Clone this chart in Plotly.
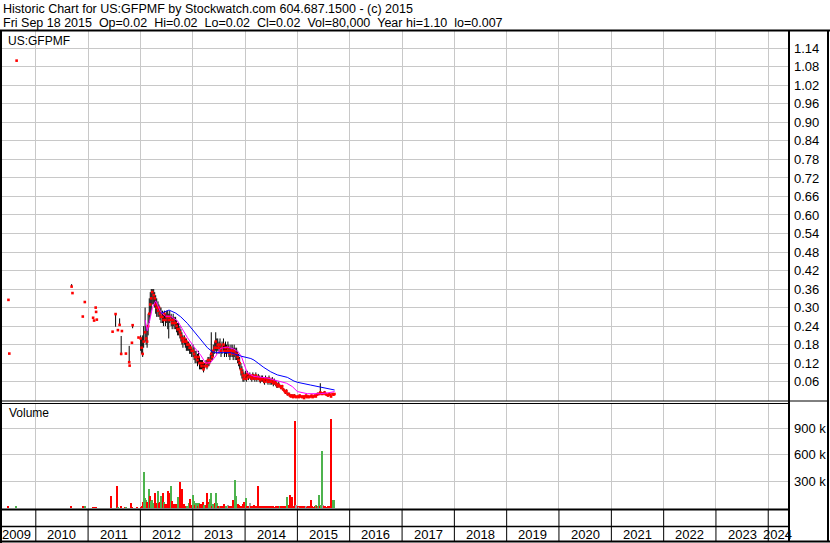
import plotly.graph_objects as go

# ---------------- DATA ----------------
# sparse early trades 2009-2011
early_dates = ["2009-06-24", "2009-06-30", "2009-08-20", "2010-09-08", "2010-09-14",
               "2010-11-25", "2010-12-09", "2011-02-05", "2011-02-12", "2011-02-23",
               "2011-02-26", "2011-03-03", "2011-06-21", "2011-07-12", "2011-07-28",
               "2011-08-09", "2011-08-20", "2011-08-25", "2011-09-22", "2011-10-15",
               "2011-10-18", "2011-11-03", "2011-11-08", "2011-12-19"]
early_close = [0.325, 0.151, 1.10, 0.368, 0.347, 0.271, 0.318, 0.267, 0.258, 0.30,
               0.286, 0.261, 0.222, 0.279, 0.227, 0.244, 0.150, 0.224, 0.151, 0.123,
               0.112, 0.186, 0.243, 0.203]
early_high = [0.325, 0.151, 1.10, 0.376, 0.347, 0.271, 0.318, 0.267, 0.258, 0.30,
              0.286, 0.261, 0.222, 0.281, 0.227, 0.265, 0.208, 0.224, 0.151, 0.176,
              0.112, 0.186, 0.243, 0.203]
early_low = [0.325, 0.151, 1.10, 0.368, 0.347, 0.271, 0.318, 0.267, 0.258, 0.30,
             0.286, 0.261, 0.222, 0.238, 0.227, 0.244, 0.146, 0.224, 0.151, 0.121,
             0.112, 0.186, 0.233, 0.203]

# weekly trades 2012-2015 (4 per month)
close_2012 = [0.20, 0.17, 0.15, 0.19, 0.22, 0.20, 0.19, 0.24, 0.28, 0.31, 0.33, 0.35,
              0.34, 0.33, 0.31, 0.30, 0.29, 0.30, 0.28, 0.27, 0.27, 0.26, 0.28, 0.26,
              0.27, 0.27, 0.26, 0.27, 0.26, 0.25, 0.26, 0.25, 0.25, 0.24, 0.23, 0.23,
              0.22, 0.21, 0.20, 0.19, 0.20, 0.19, 0.19, 0.18, 0.18, 0.17, 0.17, 0.16]
high_2012 = [0.21, 0.20, 0.21, 0.24, 0.30, 0.24, 0.23, 0.28, 0.33, 0.35, 0.36, 0.36,
             0.36, 0.35, 0.34, 0.33, 0.32, 0.31, 0.30, 0.30, 0.29, 0.28, 0.29, 0.28,
             0.29, 0.29, 0.28, 0.29, 0.28, 0.27, 0.28, 0.27, 0.27, 0.26, 0.25, 0.25,
             0.24, 0.23, 0.22, 0.21, 0.21, 0.20, 0.20, 0.19, 0.19, 0.18, 0.18, 0.17]
low_2012 = [0.16, 0.15, 0.14, 0.17, 0.19, 0.18, 0.17, 0.21, 0.25, 0.27, 0.29, 0.31,
            0.31, 0.30, 0.28, 0.27, 0.27, 0.27, 0.26, 0.25, 0.25, 0.24, 0.26, 0.24,
            0.25, 0.23, 0.20, 0.25, 0.24, 0.23, 0.24, 0.23, 0.23, 0.22, 0.21, 0.21,
            0.20, 0.19, 0.18, 0.17, 0.18, 0.17, 0.16, 0.16, 0.16, 0.15, 0.15, 0.14]

close_2013 = [0.16, 0.15, 0.14, 0.14, 0.13, 0.14, 0.12, 0.12, 0.11, 0.12, 0.10, 0.11,
              0.12, 0.11, 0.13, 0.12, 0.13, 0.15, 0.14, 0.16, 0.17, 0.19, 0.17, 0.18,
              0.17, 0.18, 0.16, 0.17, 0.18, 0.16, 0.17, 0.16, 0.17, 0.16, 0.15, 0.16,
              0.16, 0.15, 0.16, 0.15, 0.15, 0.14, 0.13, 0.12, 0.10, 0.09, 0.08, 0.07]
high_2013 = [0.18, 0.17, 0.16, 0.16, 0.15, 0.16, 0.14, 0.13, 0.13, 0.13, 0.12, 0.12,
             0.13, 0.13, 0.14, 0.14, 0.15, 0.22, 0.16, 0.18, 0.19, 0.22, 0.20, 0.20,
             0.19, 0.20, 0.18, 0.19, 0.20, 0.18, 0.19, 0.18, 0.19, 0.18, 0.17, 0.18,
             0.18, 0.17, 0.18, 0.17, 0.17, 0.16, 0.15, 0.14, 0.12, 0.11, 0.10, 0.09]
low_2013 = [0.14, 0.13, 0.12, 0.12, 0.11, 0.12, 0.10, 0.10, 0.10, 0.10, 0.09, 0.10,
            0.11, 0.10, 0.11, 0.11, 0.12, 0.13, 0.13, 0.14, 0.15, 0.16, 0.15, 0.16,
            0.15, 0.16, 0.14, 0.15, 0.16, 0.14, 0.15, 0.14, 0.15, 0.14, 0.13, 0.14,
            0.14, 0.13, 0.14, 0.13, 0.13, 0.12, 0.11, 0.10, 0.08, 0.07, 0.06, 0.06]

close_2014 = [0.080, 0.070, 0.085, 0.075, 0.080, 0.075, 0.070, 0.080, 0.075, 0.070, 0.080, 0.070,
              0.075, 0.070, 0.065, 0.070, 0.070, 0.065, 0.060, 0.070, 0.065, 0.060, 0.070, 0.060,
              0.060, 0.065, 0.055, 0.060, 0.055, 0.050, 0.045, 0.050, 0.045, 0.040, 0.045, 0.035,
              0.030, 0.025, 0.030, 0.020, 0.020, 0.015, 0.012, 0.015, 0.010, 0.015, 0.012, 0.010]
high_2014 = [0.095, 0.085, 0.095, 0.085, 0.090, 0.085, 0.080, 0.090, 0.085, 0.080, 0.090, 0.080,
             0.085, 0.080, 0.075, 0.080, 0.080, 0.075, 0.070, 0.080, 0.075, 0.070, 0.080, 0.070,
             0.070, 0.075, 0.065, 0.070, 0.065, 0.060, 0.055, 0.060, 0.050, 0.045, 0.050, 0.040,
             0.035, 0.030, 0.035, 0.025, 0.025, 0.020, 0.015, 0.020, 0.015, 0.020, 0.015, 0.012]
low_2014 = [0.065, 0.060, 0.075, 0.065, 0.070, 0.065, 0.060, 0.070, 0.065, 0.060, 0.070, 0.060,
            0.065, 0.060, 0.055, 0.060, 0.060, 0.055, 0.050, 0.060, 0.055, 0.050, 0.060, 0.050,
            0.050, 0.055, 0.045, 0.050, 0.045, 0.040, 0.040, 0.045, 0.040, 0.035, 0.040, 0.030,
            0.025, 0.020, 0.025, 0.015, 0.015, 0.012, 0.010, 0.012, 0.008, 0.012, 0.010, 0.008]

close_2015 = [0.012, 0.010, 0.015, 0.012, 0.010, 0.012, 0.007, 0.012, 0.015, 0.010, 0.012, 0.010,
              0.012, 0.015, 0.010, 0.012, 0.015, 0.012, 0.018, 0.020, 0.020, 0.025, 0.022, 0.020,
              0.022, 0.025, 0.020, 0.018, 0.015, 0.020, 0.018, 0.012, 0.020, 0.018, 0.020]
high_2015 = [0.015, 0.012, 0.018, 0.015, 0.012, 0.015, 0.010, 0.015, 0.018, 0.012, 0.015, 0.012,
             0.015, 0.018, 0.012, 0.015, 0.018, 0.015, 0.020, 0.025, 0.025, 0.055, 0.025, 0.025,
             0.025, 0.030, 0.022, 0.020, 0.018, 0.022, 0.020, 0.015, 0.022, 0.020, 0.022]
low_2015 = [0.010, 0.008, 0.012, 0.010, 0.008, 0.010, 0.007, 0.010, 0.012, 0.008, 0.010, 0.008,
            0.010, 0.012, 0.008, 0.010, 0.012, 0.010, 0.015, 0.018, 0.018, 0.020, 0.020, 0.018,
            0.020, 0.022, 0.018, 0.015, 0.012, 0.018, 0.015, 0.010, 0.018, 0.015, 0.018]

week_days = [3, 10, 17, 24]
last_day = (2015, 9, 17)

# moving averages
ma_fast_dates = ["2012-02-03", "2012-02-18", "2012-03-07", "2012-03-25", "2012-04-17", "2012-05-03",
                 "2012-05-22", "2012-06-26", "2012-07-31", "2012-09-16", "2012-10-21", "2012-11-24",
                 "2013-01-09", "2013-02-25", "2013-04-01", "2013-05-06", "2013-06-10", "2013-07-14",
                 "2013-08-30", "2013-10-13", "2013-11-17", "2013-12-08", "2013-12-24", "2014-01-17",
                 "2014-03-04", "2014-04-20", "2014-06-06", "2014-07-19", "2014-09-06", "2014-10-18",
                 "2014-11-27", "2015-01-01", "2015-03-12", "2015-06-12", "2015-08-07", "2015-09-18"]
ma_fast_vals = [0.26, 0.225, 0.26, 0.30, 0.322, 0.305, 0.285, 0.272, 0.272, 0.257, 0.23, 0.203,
                0.173, 0.146, 0.12, 0.122, 0.143, 0.168, 0.172, 0.166, 0.155, 0.14, 0.118, 0.088,
                0.077, 0.074, 0.072, 0.066, 0.06, 0.055, 0.044, 0.028, 0.021, 0.021, 0.024, 0.028]
ma_slow_dates = ["2012-05-22", "2012-06-26", "2012-07-19", "2012-09-04", "2012-10-09", "2012-11-24",
                 "2013-01-09", "2013-02-25", "2013-04-13", "2013-05-18", "2013-06-21", "2013-09-22",
                 "2013-12-01", "2014-02-10", "2014-03-04", "2014-05-12", "2014-06-29", "2014-08-14",
                 "2014-10-23", "2014-12-08", "2015-01-01", "2015-04-04", "2015-06-12", "2015-07-05",
                 "2015-09-18"]
ma_slow_vals = [0.281, 0.287, 0.292, 0.282, 0.27, 0.249, 0.222, 0.197, 0.17, 0.157, 0.154, 0.154,
                0.143, 0.135, 0.13, 0.106, 0.092, 0.082, 0.074, 0.062, 0.058, 0.049, 0.042, 0.039,
                0.033]

# volume (thousands) and direction: u=up (green), d=down (red), n=unchanged (grey)
early_vol_dates = ["2009-06-24", "2009-08-20", "2010-09-08", "2010-11-25", "2010-12-09",
                   "2011-02-05", "2011-02-12", "2011-02-25", "2011-06-12", "2011-07-22",
                   "2011-07-30", "2011-08-18", "2011-09-17", "2011-09-25", "2011-10-27",
                   "2011-11-02", "2011-12-12"]
early_vol = [8, 6, 10, 6, 6, 4, 4, 4, 126, 250, 5, 18, 5, 5, 49, 5, 5]
early_dir = "duddudddddudduddd"

vol_2012 = [5, 20, 68, 405, 107, 88, 68, 40, 212, 126, 75, 88,
            49, 165, 40, 49, 184, 49, 60, 126, 115, 165, 60, 35,
            40, 184, 165, 30, 242, 75, 40, 20, 45, 30, 45, 125,
            288, 75, 212, 40, 40, 15, 10, 20, 50, 96, 30, 20]
dir_2012 = "dddu" "uudd" "uduu" "uddd" "uddu" "udud" "dddd" "uddd" "dddu" "dddd" "dddu" "uddd"
vol_2013 = [138, 75, 30, 50, 50, 20, 50, 40, 40, 20, 60, 30,
            30, 165, 60, 40, 100, 165, 20, 40, 50, 165, 50, 20,
            5, 10, 8, 10, 10, 45, 10, 15, 30, 15, 10, 15,
            10, 88, 20, 307, 126, 40, 30, 20, 20, 15, 40, 68]
dir_2013 = "uudu" "udud" "dddu" "dddu" "uudu" "duud" "dudd" "dddu" "nddd" "dddu" "uddd" "dddd"
vol_2014 = [20, 107, 15, 10, 49, 15, 10, 10, 30, 15, 10, 5,
            242, 20, 15, 10, 15, 10, 20, 10, 10, 5, 15, 20,
            10, 5, 10, 5, 15, 5, 10, 5, 10, 20, 5, 10,
            5, 20, 10, 122, 30, 145, 20, 115, 20, 10, 985, 30]
dir_2014 = "dudd" "nddd" "dddd" "dddd" "dddd" "dddd" "dddd" "dddd" "uddd" "dddu" "dddd" "dddn"
vol_2015 = [10, 5, 10, 15, 10, 15, 5, 10, 20, 5, 10, 5,
            15, 88, 10, 5, 10, 30, 15, 20, 145, 20, 30, 637,
            30, 10, 20, 5, 10, 15, 10, 1008, 30, 88, 80]
dir_2015 = "dndd" "dddd" "nddd" "dddd" "dudu" "uduu" "nddd" "dddd" "duu"

price_tick_text = ["0.06", "0.12", "0.18", "0.24", "0.30", "0.36", "0.42", "0.48", "0.54", "0.60",
                   "0.66", "0.72", "0.78", "0.84", "0.90", "0.96", "1.02", "1.08", "1.14"]
vol_tick_vals = [300000, 600000, 900000]
vol_tick_text = ["300 k", "600 k", "900 k"]
year_labels = ["2009", "2010", "2011", "2012", "2013", "2014", "2015", "2016",
               "2017", "2018", "2019", "2020", "2021", "2022", "2023", "2024"]

title_line1 = "Historic Chart for US:GFPMF by Stockwatch.com 604.687.1500 - (c) 2015"
title_line2 = ("Fri Sep 18 2015  Op=0.02  Hi=0.02  Lo=0.02  Cl=0.02  Vol=80,000  "
               "Year hi=1.10  lo=0.007")
symbol_label = "US:GFPMF"
volume_label = "Volume"

# ---------------- BUILD ----------------
dense_dates = []
for y in (2012, 2013, 2014, 2015):
    for m in range(1, 13):
        for d in week_days:
            if (y, m, d) <= last_day:
                dense_dates.append(f"{y}-{m:02d}-{d:02d}")

dense_close = close_2012 + close_2013 + close_2014 + close_2015
dense_high = high_2012 + high_2013 + high_2014 + high_2015
dense_low = low_2012 + low_2013 + low_2014 + low_2015
dense_vol = vol_2012 + vol_2013 + vol_2014 + vol_2015
dense_dir = dir_2012 + dir_2013 + dir_2014 + dir_2015
assert len(dense_dates) == len(dense_close) == len(dense_high) == len(dense_low) == len(dense_vol) == len(dense_dir)

all_dates = early_dates + dense_dates
all_close = early_close + dense_close
all_high = early_high + dense_high
all_low = early_low + dense_low

hl_x, hl_y = [], []
for d, h, l in zip(all_dates, all_high, all_low):
    if h > l:
        hl_x += [d, d, None]
        hl_y += [l, h, None]

vol_dates = early_vol_dates + dense_dates
vol_vals = [v * 1000 for v in early_vol + dense_vol]
vol_dirs = early_dir + dense_dir
dir_color = {"u": "#4db34d", "d": "#ff0000", "n": "#a0a0a0"}
vol_colors = [dir_color[c] for c in vol_dirs]

W, H = 830, 543
PL, PR, PT, PB = 2, 789, 31, 509


def fx(px):
    return (px - PL) / (PR - PL)


def fy(py):
    return (PB - py) / (PB - PT)


FONT = "Liberation Sans, Arial, sans-serif"
GRID = "#c8c8c8"
year_bounds = [f"{y}-01-01" for y in range(2010, 2025)]

fig = go.Figure()
fig.add_trace(go.Scatter(x=hl_x, y=hl_y, mode="lines", line=dict(color="black", width=1),
                         hoverinfo="skip", showlegend=False, xaxis="x", yaxis="y"))
fig.add_trace(go.Scatter(x=all_dates, y=all_close, mode="markers",
                         marker=dict(symbol="square", size=2.6, color="#ff0000", line=dict(width=0)),
                         showlegend=False, xaxis="x", yaxis="y"))
fig.add_trace(go.Scatter(x=ma_fast_dates, y=ma_fast_vals, mode="lines",
                         line=dict(color="#ff00ff", width=1), showlegend=False, xaxis="x", yaxis="y"))
fig.add_trace(go.Scatter(x=ma_slow_dates, y=ma_slow_vals, mode="lines",
                         line=dict(color="#0000ff", width=1), showlegend=False, xaxis="x", yaxis="y"))
fig.add_trace(go.Bar(x=vol_dates, y=vol_vals, marker=dict(color=vol_colors, line=dict(width=0)),
                     width=9 * 86400000, showlegend=False, xaxis="x2", yaxis="y2"))

xcommon = dict(type="date", range=["2009-05-10", "2024-05-25"], tickvals=year_bounds,
               showticklabels=False, ticks="", showgrid=True, gridcolor=GRID, gridwidth=1,
               zeroline=False, showline=False, fixedrange=True)

shapes = []


def hline(py, x0, x1, w):
    shapes.append(dict(type="line", xref="paper", yref="paper", x0=fx(x0), x1=fx(x1),
                       y0=fy(py), y1=fy(py), line=dict(color="black", width=w), layer="above"))


def vline(px, y0, y1, w):
    shapes.append(dict(type="line", xref="paper", yref="paper", x0=fx(px), x1=fx(px),
                       y0=fy(y0), y1=fy(y1), line=dict(color="black", width=w), layer="above"))


hline(30.5, 0, 830, 2)
vline(1, 30, 543, 2)
vline(789, 30, 542, 2)
vline(828, 30, 542, 2)
hline(401, 2, 828, 1)
hline(403.5, 2, 789, 1)
hline(509.5, 2, 789, 2)
hline(526.5, 2, 789, 1.5)
hline(541.5, 0, 830, 2)
for b in year_bounds:
    shapes.append(dict(type="line", xref="x", yref="paper", x0=b, x1=b, y0=fy(509), y1=fy(542),
                       line=dict(color="black", width=1), layer="above"))

annotations = [
    dict(text=title_line1, x=fx(1), y=fy(8.5), xref="paper", yref="paper", xanchor="left",
         yanchor="middle", showarrow=False, font=dict(family=FONT, size=12.5, color="black")),
    dict(text=title_line2.replace(" ", "\u00a0"), x=fx(1), y=fy(23), xref="paper", yref="paper",
         xanchor="left", yanchor="middle", showarrow=False,
         font=dict(family=FONT, size=12.5, color="black")),
    dict(text=symbol_label, x=fx(6), y=fy(41), xref="paper", yref="paper", xanchor="left",
         yanchor="middle", showarrow=False, font=dict(family=FONT, size=12, color="black")),
    dict(text=volume_label, x=fx(7), y=fy(413), xref="paper", yref="paper", xanchor="left",
         yanchor="middle", showarrow=False, font=dict(family=FONT, size=12, color="black")),
]
year_mid = ["2009-08-18"] + [f"{y}-07-02" for y in range(2010, 2024)] + ["2024-03-08"]
for lab, xm in zip(year_labels, year_mid):
    annotations.append(dict(text=lab, x=xm, y=fy(534), xref="x", yref="paper", xanchor="center",
                            yanchor="middle", showarrow=False,
                            font=dict(family=FONT, size=13, color="black")))

fig.update_layout(
    width=W, height=H, autosize=False,
    margin=dict(l=PL, r=W - PR, t=PT, b=H - PB, pad=0),
    paper_bgcolor="white", plot_bgcolor="white",
    showlegend=False, bargap=0,
    font=dict(family=FONT, size=12, color="black"),
    xaxis=dict(domain=[0, 1], anchor="y", **xcommon),
    xaxis2=dict(domain=[0, 1], anchor="y2", matches="x", **xcommon),
    yaxis=dict(domain=[fy(401), 1], anchor="x", side="right", range=[-0.0026, 1.196],
               tickvals=[float(t) for t in price_tick_text], ticktext=price_tick_text,
               ticks="", ticklabelstandoff=4, showgrid=True, gridcolor=GRID, zeroline=False,
               showline=False, tickfont=dict(family=FONT, size=13, color="black"), fixedrange=True),
    yaxis2=dict(domain=[0, fy(403)], anchor="x2", side="right", range=[-17000, 1187500],
                tickvals=vol_tick_vals, ticktext=vol_tick_text, ticks="", ticklabelstandoff=4,
                showgrid=True, gridcolor=GRID, zeroline=False, showline=False,
                tickfont=dict(family=FONT, size=13, color="black"), fixedrange=True),
    shapes=shapes,
    annotations=annotations,
)

fig.write_html("out.html", config={"displayModeBar": False},
               post_script="document.body.style.margin='0';document.body.style.overflow='hidden';")
